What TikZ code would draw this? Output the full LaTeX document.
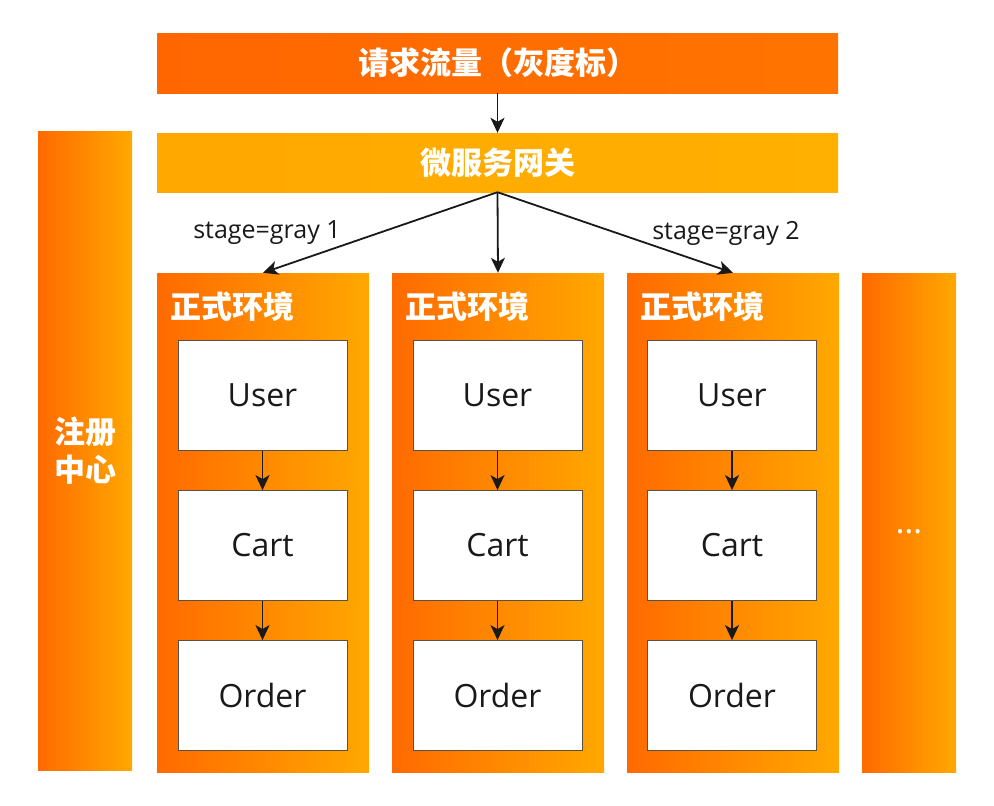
\documentclass[tikz,border=0pt]{standalone}
\usepackage{fontspec}
\setmainfont{Open Sans}
\newfontfamily\cjk{Noto Sans CJK SC}
\usetikzlibrary{arrows.meta}
\definecolor{orgTopL}{HTML}{FF6600}
\definecolor{orgTopR}{HTML}{FF7400}
\definecolor{orgGwL}{HTML}{FFA800}
\definecolor{orgGwR}{HTML}{FFB000}
\definecolor{orgL}{HTML}{FF6A00}
\definecolor{orgR}{HTML}{FFA800}
\definecolor{boxline}{HTML}{5A5046}
\begin{document}
\begin{tikzpicture}[x=1pt,y=-1pt,
  bar/.style={minimum width=681pt, minimum height=60pt, inner sep=0pt, text=white,
    font=\cjk\bfseries\fontsize{31}{36}\selectfont},
  colbox/.style={left color=orgL, right color=orgR, draw=none, inner sep=0pt, text=white},
  envlabel/.style={anchor=west, inner sep=0pt, text=white, font=\cjk\bfseries\fontsize{31}{36}\selectfont},
  svc/.style={draw=boxline, fill=white, line width=0.8pt, minimum width=169pt, minimum height=110pt,
    inner sep=0pt, font=\fontsize{32}{38}\selectfont, text=black!90},
  arr/.style={-{Stealth[length=15pt,width=14pt,inset=4pt]}, line width=1.8pt, draw=black!90},
  lbl/.style={inner sep=0pt, font=\fontsize{25}{29}\selectfont, text=black!90}
]
\useasboundingbox (0,0) rectangle (994,806);

% top bars
\node[bar, left color=orgTopL, right color=orgTopR] (req) at (497.5,63) {请求流量（灰度标）};
\node[bar, left color=orgGwL, right color=orgGwR, minimum height=59pt] (gw) at (497.5,162.5) {微服务网关};

% registry
\node[colbox, minimum width=94pt, minimum height=639pt, align=center,
  font=\cjk\bfseries\fontsize{31}{38}\selectfont] (reg) at (85,451) {注册\\中心};

% columns
\node[colbox, minimum width=212pt, minimum height=499pt] (col1) at (263,522.5) {};
\node[colbox, minimum width=212pt, minimum height=499pt] (col2) at (498,522.5) {};
\node[colbox, minimum width=212pt, minimum height=499pt] (col3) at (733,522.5) {};
\node[colbox, minimum width=94pt, minimum height=499pt] (col4) at (909,522.5) {};
\node[inner sep=0pt, anchor=base, text=white, font=\fontsize{34}{38}\selectfont] (dots) at (909,533) {…};

% environment titles
\node[envlabel] (env1) at (170,307) {正式环境};
\node[envlabel] (env2) at (405,307) {正式环境};
\node[envlabel] (env3) at (640,307) {正式环境};

% services
\foreach \i/\x in {1/262.5, 2/497.5, 3/732} {
  \node[svc] (user\i) at (\x,395.5) {User};
  \node[svc] (cart\i) at (\x,545.5) {Cart};
  \node[svc] (order\i) at (\x,695.5) {Order};
  \draw[arr] (user\i) -- (cart\i);
  \draw[arr] (cart\i) -- (order\i);
}

% gateway connections
\draw[arr] (req) -- (gw);
\draw[arr] (gw.south) -- (col1.north);
\draw[arr] (gw.south) -- (col2.north);
\draw[arr] (gw.south) -- (col3.north);

\node[lbl] (lab1) at (267,233) {stage=gray 1};
\node[lbl] (lab2) at (726,233) {stage=gray 2};
\end{tikzpicture}
\end{document}
